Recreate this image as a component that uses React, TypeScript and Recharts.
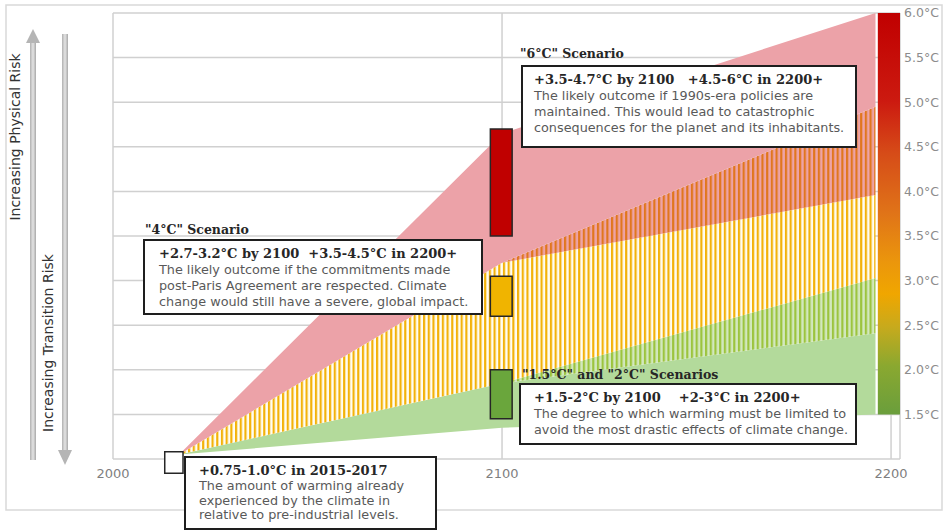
import { ComposedChart, Area, XAxis, YAxis, CartesianGrid, ReferenceArea } from 'recharts';

// band edges (°C above pre-industrial)
const years = [2017, 2100, 2196];
const greenBase = [1.05, 1.35, 1.5];
const greenSolidTop = [1.05, 1.85, 2.41];
const greenHatchTop = [1.05, 1.85, 3.03];
const yellowHatchTop = [1.05, 3.2, 3.96];
const orangeHatchTop = [1.05, 3.2, 4.95];
const pinkTop = [1.05, 4.65, 6.0];

const xTicks = [2000, 2100, 2200];
const gridTicks = [1, 1.5, 2, 2.5, 3, 3.5, 4, 4.5, 5, 5.5, 6];
const scaleTicks = [1.5, 2, 2.5, 3, 3.5, 4, 4.5, 5, 5.5, 6];

// scenario ranges at 2100
const barLows = [3.5, 2.6, 1.45];
const barHighs = [4.7, 3.05, 2.0];
const barColors = ['#c00000', '#f0b400', '#6aa63c'];

// observed warming 2015-2017
const nowRange = [0.84, 1.08];

const titles = ['"6°C" Scenario', '"4°C" Scenario', '"1.5°C" and "2°C" Scenarios'];
const headers = [
  '+3.5-4.7°C by 2100   +4.5-6°C in 2200+',
  '+2.7-3.2°C by 2100  +3.5-4.5°C in 2200+',
  '+1.5-2°C by 2100    +2-3°C in 2200+',
  '+0.75-1.0°C in 2015-2017',
];
const bodies = [
  ['The likely outcome if 1990s-era policies are', 'maintained. This would lead to catastrophic', 'consequences for the planet and its inhabitants.'],
  ['The likely outcome if the commitments made', 'post-Paris Agreement are respected. Climate', 'change would still have a severe, global impact.'],
  ['The degree to which warming must be limited to', 'avoid the most drastic effects of climate change.'],
  ['The amount of warming already', 'experienced by the climate in', 'relative to pre-industrial levels.'],
];

const rows = years.map((year, i) => ({
  year,
  green: [greenBase[i], greenSolidTop[i]],
  greenHatch: [greenSolidTop[i], greenHatchTop[i]],
  yellowHatch: [greenHatchTop[i], yellowHatchTop[i]],
  orangeHatch: [yellowHatchTop[i], orangeHatchTop[i]],
  pink: [orangeHatchTop[i], pinkTop[i]],
}));

const serifBold = { fontFamily: '"DejaVu Serif", serif', fontWeight: 'bold' as const, color: '#262626' };

function Note({ idx, left, top, width, height, pad, lh }: { idx: number; left: number; top: number; width: number; height: number; pad: number; lh: number }) {
  return (
    <div
      style={{
        position: 'absolute',
        left,
        top,
        width,
        height,
        boxSizing: 'border-box',
        border: '2px solid #1e1e1e',
        background: '#fff',
        padding: `5px 0 0 ${pad}px`,
      }}
    >
      <div style={{ ...serifBold, fontSize: 13, lineHeight: '16px', whiteSpace: 'pre' }}>{headers[idx]}</div>
      {bodies[idx].map((line) => (
        <div key={line} style={{ fontFamily: '"DejaVu Sans", sans-serif', fontSize: 12.8, color: '#595959', lineHeight: `${lh}px`, whiteSpace: 'pre' }}>
          {line}
        </div>
      ))}
    </div>
  );
}

function Title({ idx, left, top }: { idx: number; left: number; top: number }) {
  return <div style={{ position: 'absolute', left, top, ...serifBold, fontSize: 12.5, whiteSpace: 'pre' }}>{titles[idx]}</div>;
}

export default function App() {
  return (
    <div style={{ position: 'absolute', left: 0, top: 0, width: 947, height: 532, background: '#fff' }}>
      <svg width={947} height={532} style={{ position: 'absolute', left: 0, top: 0 }}>
        <defs>
          <linearGradient id="shaft" x1="0" y1="0" x2="1" y2="0">
            <stop offset="0" stopColor="#b0b0b0" />
            <stop offset="0.5" stopColor="#e4e4e4" />
            <stop offset="1" stopColor="#a8a8a8" />
          </linearGradient>
        </defs>
        <rect x={6} y={5} width={936} height={505} fill="none" stroke="#d9d9d9" strokeWidth={1.5} />
        <rect x={30} y={40} width={6} height={420} fill="url(#shaft)" />
        <polygon points="33,29 26,43 40,43" fill="#b5b5b5" />
        <rect x={62} y={34} width={6} height={418} fill="url(#shaft)" />
        <polygon points="65,465 58,450 72,450" fill="#b5b5b5" />
        <text x={15} y={137} transform="rotate(-90 15 137)" textAnchor="middle" dominantBaseline="central"
          fontFamily='"DejaVu Sans", sans-serif' fontSize={14} fill="#333">Increasing Physical Risk</text>
        <text x={48} y={343} transform="rotate(-90 48 343)" textAnchor="middle" dominantBaseline="central"
          fontFamily='"DejaVu Sans", sans-serif' fontSize={14} fill="#333">Increasing Transition Risk</text>
      </svg>
      <div style={{ position: 'absolute', left: 0, top: 0 }}>
        <ComposedChart width={947} height={532} data={rows} margin={{ top: 13, right: 0, bottom: 43, left: 113 }}>
          <defs>
            <pattern id="hGreen" width="4.7" height="10" patternUnits="userSpaceOnUse">
              <rect width="4.7" height="10" fill="#d2e8be" />
              <rect width="2.2" height="10" fill="#9cc43e" />
            </pattern>
            <pattern id="hYellow" width="4.7" height="10" patternUnits="userSpaceOnUse">
              <rect width="4.7" height="10" fill="#fffdf3" />
              <rect width="2.2" height="10" fill="#f3b20a" />
            </pattern>
            <pattern id="hOrange" width="4.7" height="10" patternUnits="userSpaceOnUse">
              <rect width="4.7" height="10" fill="#eda3a6" />
              <rect width="2.2" height="10" fill="#e1761e" />
            </pattern>
            <linearGradient id="cbar" x1="0" y1="0" x2="0" y2="1">
              <stop offset="0" stopColor="#c00000" />
              <stop offset="0.22" stopColor="#cc1a10" />
              <stop offset="0.35" stopColor="#d64c18" />
              <stop offset="0.5" stopColor="#e07418" />
              <stop offset="0.62" stopColor="#eb960c" />
              <stop offset="0.7" stopColor="#f0a600" />
              <stop offset="0.78" stopColor="#c8aa1c" />
              <stop offset="0.88" stopColor="#8aa830" />
              <stop offset="1" stopColor="#6a9e3c" />
            </linearGradient>
          </defs>
          <CartesianGrid stroke="#d0d0d0" strokeWidth={1.5} />
          <XAxis dataKey="year" type="number" domain={[2000, 2202.3]} ticks={xTicks} allowDataOverflow
            axisLine={false} tickLine={false} tickSize={0} tickMargin={10} height={30}
            tick={{ fill: '#7f7f7f', fontSize: 13, fontFamily: '"DejaVu Sans", sans-serif' }} />
          <YAxis type="number" domain={[1, 6]} ticks={gridTicks} allowDataOverflow hide />
          <YAxis yAxisId="scale" orientation="right" type="number" domain={[1, 6]} ticks={scaleTicks} width={47}
            allowDataOverflow axisLine={false} tickLine={false} tickSize={1} tickMargin={3}
            tickFormatter={(v: number) => `${v.toFixed(1)}°C`}
            tick={{ fill: '#8c8c8c', fontSize: 12.5, fontFamily: '"DejaVu Sans", sans-serif' }} />
          <Area type="linear" dataKey="green" stroke="none" fill="#b3da9b" fillOpacity={1} isAnimationActive={false} />
          <Area type="linear" dataKey="greenHatch" stroke="none" fill="url(#hGreen)" fillOpacity={1} isAnimationActive={false} />
          <Area type="linear" dataKey="yellowHatch" stroke="none" fill="url(#hYellow)" fillOpacity={1} isAnimationActive={false} />
          <Area type="linear" dataKey="orangeHatch" stroke="none" fill="url(#hOrange)" fillOpacity={1} isAnimationActive={false} />
          <Area yAxisId="scale" type="linear" dataKey="pink" stroke="none" fill="#eca2a8" fillOpacity={1} isAnimationActive={false} />
          {barLows.map((low, i) => (
            <ReferenceArea key={i} x1={2097} x2={2102.6} y1={low} y2={barHighs[i]}
              fill={barColors[i]} fillOpacity={1} stroke="#262626" strokeWidth={1.5} />
          ))}
          <ReferenceArea x1={2013.3} x2={2018} y1={nowRange[0]} y2={nowRange[1]} ifOverflow="visible"
            fill="#fff" fillOpacity={1} stroke="#262626" strokeWidth={1.5} />
          <ReferenceArea yAxisId="scale" x1={2196.6} x2={2202.3} y1={1.5} y2={6} fill="url(#cbar)" fillOpacity={1} />
        </ComposedChart>
      </div>
      <Title idx={0} left={520} top={46} />
      <Note idx={0} left={521} top={65} width={336} height={83} pad={11} lh={16} />
      <Title idx={1} left={145} top={222} />
      <Note idx={1} left={143} top={239} width={340} height={76} pad={14} lh={16} />
      <Title idx={2} left={522} top={367} />
      <Note idx={2} left={519} top={383} width={338} height={62} pad={13} lh={15.5} />
      <Note idx={3} left={184} top={456} width={253} height={74} pad={13} lh={14.5} />
    </div>
  );
}
